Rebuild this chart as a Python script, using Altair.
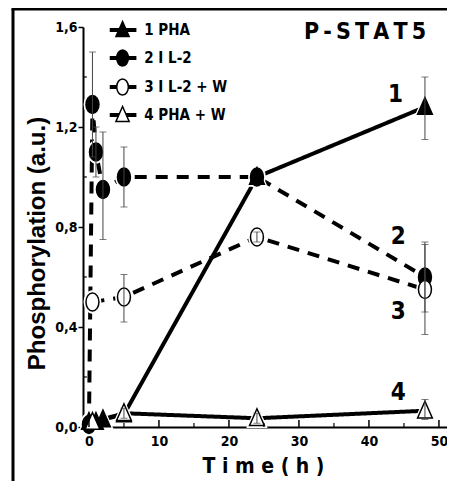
import altair as alt
import pandas as pd

FN = "DejaVu Sans Condensed, Liberation Sans Narrow, Arial Narrow, Liberation Sans, sans-serif"
FW = "Liberation Sans, Arial, sans-serif"

# ---- data ----
series_keys = ["PHA", "IL2", "IL2W", "PHAW"]
legend_labels = ["1 PHA", "2 I L-2", "3 I L-2 + W", "4 PHA + W"]

pha_t = [0, 1, 2, 5, 24, 48]
pha_v = [0.02, 0.02, 0.03, 0.05, 1.00, 1.28]
il2_t = [0, 0.5, 1, 2, 5, 24, 48]
il2_v = [0.01, 1.29, 1.10, 0.95, 1.00, 1.00, 0.60]
il2w_t = [0.5, 5, 24, 48]
il2w_v = [0.50, 0.52, 0.76, 0.55]
phaw_t = [0.5, 5, 24, 48]
phaw_v = [0.02, 0.055, 0.035, 0.065]

err_series = ["IL2", "IL2", "IL2", "IL2", "IL2", "IL2W", "IL2W", "IL2W", "PHA", "PHAW", "PHAW", "PHAW"]
err_t = [0.5, 1, 2, 5, 48, 5, 24, 48, 48, 5, 24, 48]
err_lo = [1.08, 1.00, 0.75, 0.88, 0.46, 0.42, 0.74, 0.37, 1.15, 0.035, 0.015, 0.03]
err_hi = [1.50, 1.20, 1.18, 1.12, 0.74, 0.61, 0.78, 0.73, 1.40, 0.075, 0.055, 0.11]

ann_text = ["1", "2", "3", "4"]
ann_t = [43.8, 44.2, 44.2, 44.2]
ann_v = [1.33, 0.76, 0.46, 0.136]

x_major = [0, 10, 20, 30, 40, 50]
x_minor = [5, 15, 25, 35, 45]
y_major = [0, 0.4, 0.8, 1.2, 1.6]
y_minor = [0.2, 0.6, 1.0, 1.4]

leg_y = [1.588, 1.476, 1.36, 1.248]

# ---- tables ----
rows = []
for k, ts, vs in [("PHA", pha_t, pha_v), ("IL2", il2_t, il2_v),
                  ("IL2W", il2w_t, il2w_v), ("PHAW", phaw_t, phaw_v)]:
    for t, v in zip(ts, vs):
        rows.append({"s": k, "t": t, "v": v})
df = pd.DataFrame(rows)
err = pd.DataFrame({"s": err_series, "t": err_t, "lo": err_lo, "hi": err_hi})
ann = pd.DataFrame({"txt": ann_text, "t": ann_t, "v": ann_v})
leg = pd.DataFrame({"s": series_keys, "label": legend_labels, "v": leg_y,
                    "x1": [2.97] * 4, "x2": [6.78] * 4, "xm": [4.8] * 4, "xt": [7.9] * 4})

CIRC = "M-0.72,0A0.72,1 0 1,0 0.72,0A0.72,1 0 1,0 -0.72,0Z"
TRI = "M0,-1.05L0.82,0.8L-0.82,0.8Z"

XS = alt.Scale(domain=[-0.85, 51.15], nice=False, zero=False)
YS = alt.Scale(domain=[0, 1.6], nice=False, zero=False)
shape_s = alt.Scale(domain=series_keys, range=[TRI, CIRC, CIRC, TRI])
fill_s = alt.Scale(domain=series_keys, range=["black", "black", "white", "white"])
dash_s = alt.Scale(domain=series_keys, range=[[1, 0], [12, 9], [12, 9], [1, 0]])

xaxis = alt.Axis(values=x_major, tickSize=0, labelFont=FN, labelFontSize=14,
                 labelFontWeight="bold", labelColor="black", labelPadding=7,
                 domainWidth=2, domainColor="black", grid=False,
                 title="T i m e ( h   )", titleFont=FN, titleFontSize=21,
                 titleFontWeight="bold", titleColor="black", titleX=180, titleY=45,
                 titleBaseline="alphabetic", titleAlign="center")
yaxis = alt.Axis(values=y_major, tickSize=5, tickWidth=1.5, tickColor="black",
                 labelExpr="replace(format(datum.value, '.1f'), '.', ',')",
                 labelFont=FN, labelFontSize=14, labelFontWeight="bold", labelColor="black",
                 labelPadding=1, domainWidth=2, domainColor="black", grid=False,
                 title="Phosphorylation (a.u.)", titleFont=FW, titleFontSize=24,
                 titleFontWeight="bold", titleColor="black", titleX=-39, titleY=216,
                 titleAngle=270, titleBaseline="alphabetic", titleAlign="center")

base = alt.Chart(df)

lines = base.mark_line(strokeWidth=4, color="black", strokeCap="butt").encode(
    x=alt.X("t:Q", scale=XS, axis=xaxis),
    y=alt.Y("v:Q", scale=YS, axis=yaxis),
    detail="s:N",
    strokeDash=alt.StrokeDash("s:N", scale=dash_s, legend=None),
)

halo = base.mark_point(filled=True, opacity=1, fill="white", stroke="white", strokeWidth=3, size=420).encode(
    x=alt.X("t:Q", scale=XS), y=alt.Y("v:Q", scale=YS),
    shape=alt.Shape("s:N", scale=shape_s, legend=None),
)

pts = base.mark_point(filled=True, opacity=1, stroke="black", strokeWidth=1.5, size=324).encode(
    x=alt.X("t:Q", scale=XS), y=alt.Y("v:Q", scale=YS),
    shape=alt.Shape("s:N", scale=shape_s, legend=None),
    fill=alt.Fill("s:N", scale=fill_s, legend=None),
)

ebar = alt.Chart(err).mark_rule(color="#444", strokeWidth=1).encode(
    x=alt.X("t:Q", scale=XS), y=alt.Y("lo:Q", scale=YS), y2="hi:Q")
cap_lo = alt.Chart(err).mark_tick(color="#444", thickness=1, size=7, orient="horizontal").encode(
    x=alt.X("t:Q", scale=XS), y=alt.Y("lo:Q", scale=YS))
cap_hi = alt.Chart(err).mark_tick(color="#444", thickness=1, size=7, orient="horizontal").encode(
    x=alt.X("t:Q", scale=XS), y=alt.Y("hi:Q", scale=YS))

annot = alt.Chart(ann).mark_text(font=FN, fontSize=24, fontWeight="bold", color="black",
                                 align="center", baseline="middle").encode(
    x=alt.X("t:Q", scale=XS), y=alt.Y("v:Q", scale=YS), text="txt:N")

# custom inward ticks
xt_major = alt.Chart(pd.DataFrame({"t": x_major})).mark_rule(color="black", strokeWidth=1.5).encode(
    x=alt.X("t:Q", scale=XS), y=alt.datum(0, scale=YS), y2=alt.datum(0.028))
xt_minor = alt.Chart(pd.DataFrame({"t": x_minor})).mark_rule(color="black", strokeWidth=1.2).encode(
    x=alt.X("t:Q", scale=XS), y=alt.datum(0, scale=YS), y2=alt.datum(0.016))
yt_minor = alt.Chart(pd.DataFrame({"v": y_minor})).mark_rule(color="black", strokeWidth=1.2).encode(
    y=alt.Y("v:Q", scale=YS), x=alt.datum(-0.85, scale=XS), x2=alt.datum(-0.3))

# legend
lb = alt.Chart(leg)
leg_line = lb.mark_rule(color="black", strokeWidth=4).encode(
    x=alt.X("x1:Q", scale=XS), x2="x2:Q", y=alt.Y("v:Q", scale=YS))
leg_pt = lb.mark_point(filled=True, opacity=1, stroke="black", strokeWidth=1.5, size=260).encode(
    x=alt.X("xm:Q", scale=XS), y=alt.Y("v:Q", scale=YS),
    shape=alt.Shape("s:N", scale=shape_s, legend=None),
    fill=alt.Fill("s:N", scale=fill_s, legend=None))
leg_txt = lb.mark_text(font=FN, fontSize=15, fontWeight="bold", color="black",
                       align="left", baseline="middle").encode(
    x=alt.X("xt:Q", scale=XS), y=alt.Y("v:Q", scale=YS), text="label:N")

title = alt.Chart(pd.DataFrame({"a": [0]})).mark_text(
    text="P\u2009-\u2009S\u2009T\u2009A\u2009T\u20095", font=FN, fontSize=23, fontWeight="bold",
    color="black", align="center", baseline="middle").encode(x=alt.value(282), y=alt.value(5))

frame_l = alt.Chart(pd.DataFrame({"a": [0]})).mark_rule(color="black", strokeWidth=3).encode(
    x=alt.value(-70), y=alt.value(-18), y2=alt.value(454))
frame_t = alt.Chart(pd.DataFrame({"a": [0]})).mark_rule(color="black", strokeWidth=3).encode(
    x=alt.value(-71.5), x2=alt.value(364), y=alt.value(-18))

chart = alt.layer(
    lines, halo, pts, ebar, cap_lo, cap_hi, annot,
    xt_major, xt_minor, yt_minor,
    leg_line, leg_pt, leg_txt, title, frame_l, frame_t,
).properties(
    width=364, height=400,
    autosize=alt.AutoSizeParams(type="none"),
    padding={"left": 75, "top": 19, "right": 0, "bottom": 54},
).configure_view(stroke=None)

chart.save("out.html", embed_options={"renderer": "svg", "actions": False})
